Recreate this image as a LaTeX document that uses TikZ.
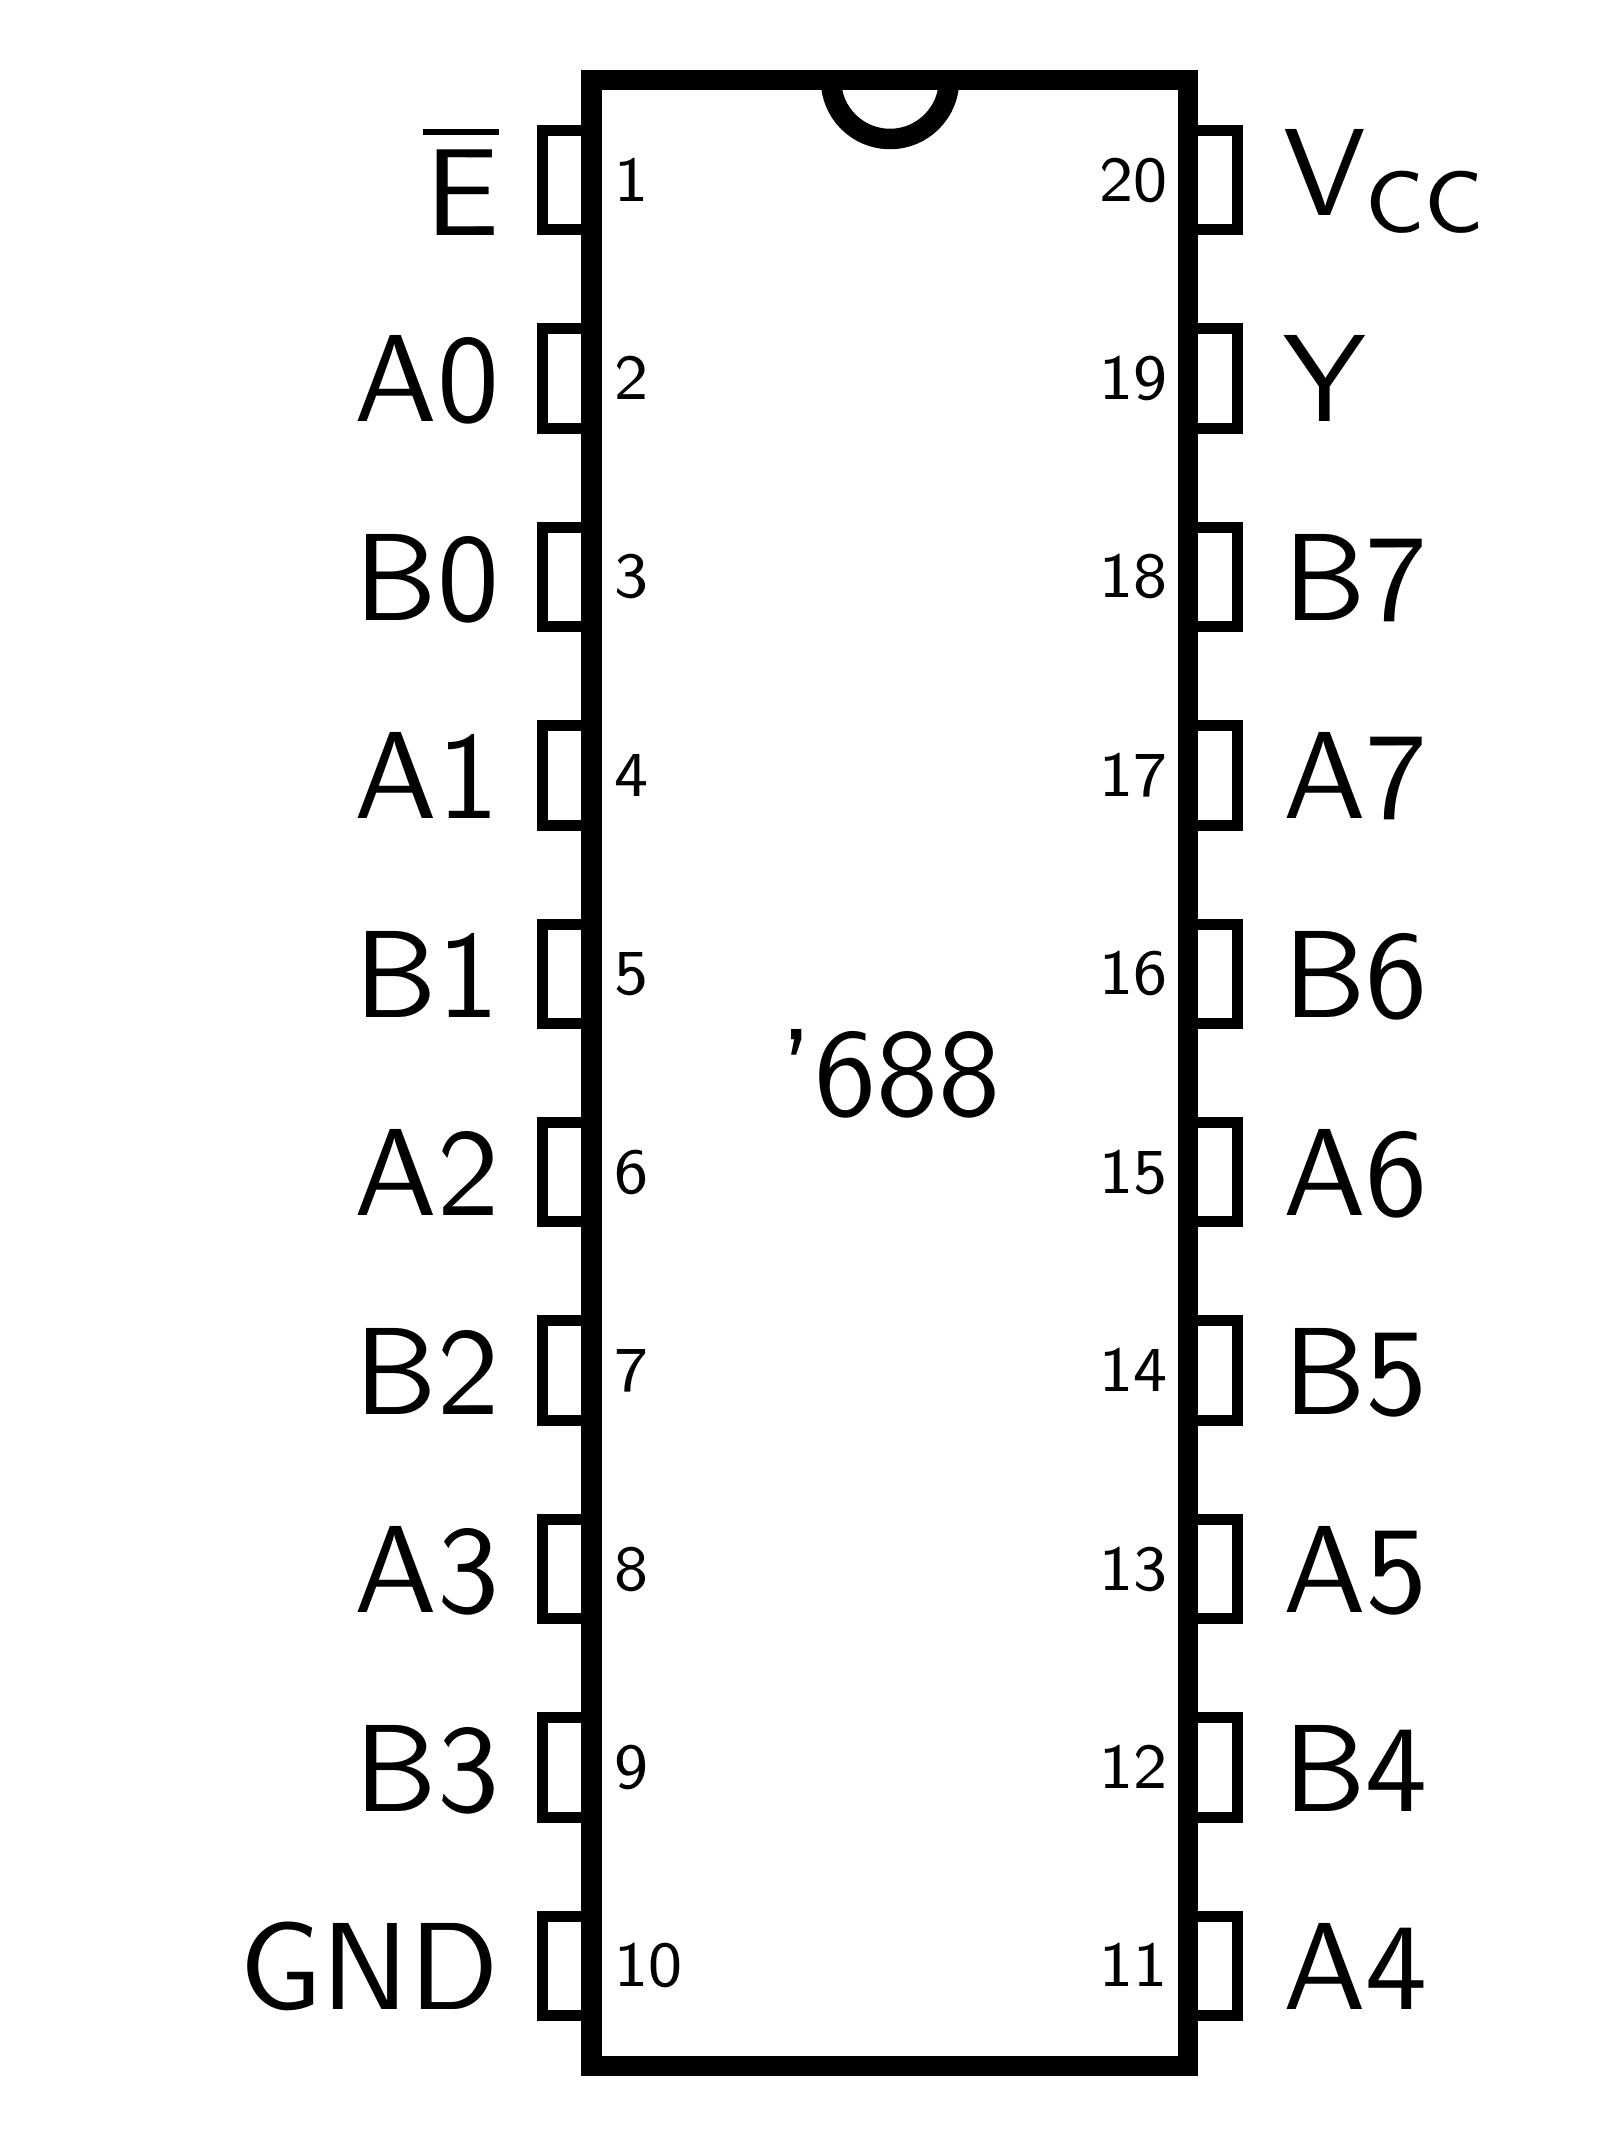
\documentclass[tikz,border=0pt]{standalone}
\usepackage{fontspec}
\newfontfamily\lmsten{lmsans10-regular.otf}
\newfontfamily\lmseight{lmsans8-regular.otf}
\newcommand{\bigtxt}{\fontsize{124}{124}\selectfont\lmsten}
\newcommand{\smalltxt}{\fontsize{64}{64}\selectfont\lmseight}
\tikzset{
  pinbox/.style={draw=black,line width=11pt,minimum width=48.5pt,minimum height=99.5pt,inner sep=0pt,outer sep=0pt},
  bodybox/.style={draw=black,line width=20.5pt,minimum width=596.5pt,minimum height=1986pt,inner sep=0pt,outer sep=0pt},
  leftlabel/.style={anchor=base east,inner sep=0pt,font=\bigtxt},
  rightlabel/.style={anchor=base west,inner sep=0pt,font=\bigtxt},
  numleft/.style={anchor=base west,inner sep=0pt,font=\smalltxt},
  numright/.style={anchor=base east,inner sep=0pt,font=\smalltxt},
  notchline/.style={draw=black,line width=20.5pt},
  barline/.style={draw=black,line width=6pt}
}
\begin{document}
\begin{tikzpicture}[x=1pt,y=-1pt]
\useasboundingbox (0,0) rectangle (1601,2146);
% pins and labels, left side
\foreach \n/\t in {1/{E},2/{A0},3/{B0},4/{A1},5/{B1},6/{A2},7/{B2},8/{A3},9/{B3},10/{GND}}{
  \pgfmathsetmacro{\yy}{180+198.44*(\n-1)}
  \node[pinbox] (pl\n) at (566.75,\yy) {};
  \node[numleft] (nl\n) at (614.5,\yy+21) {\n};
  \ifnum\n=1
    \node[leftlabel] (ll\n) at (499.5,236) {\t};
  \else
    \node[leftlabel] (ll\n) at (499.5,\yy+43.5) {\t};
  \fi
}
% pins and labels, right side
\foreach \r/\n/\t in {1/20/{V\raisebox{-17pt}{\fontsize{87}{87}\selectfont\lmseight CC}},2/19/{Y},3/18/{B7},4/17/{A7},5/16/{B6},6/15/{A6},7/14/{B5},8/13/{A5},9/12/{B4},10/11/{A4}}{
  \pgfmathsetmacro{\yy}{180+198.44*(\r-1)}
  \node[pinbox] (pr\n) at (1213,\yy) {};
  \node[numright] (nr\n) at (1168,\yy+21) {\n};
  \ifnum\r=1
    \node[rightlabel] (lr\n) at (1283,215) {\t};
  \else
    \node[rightlabel] (lr\n) at (1283,\yy+43.5) {\t};
  \fi
}
\draw[barline] (423,132) -- (499,132);
% body
\node[bodybox] (body) at (889.75,1073) {};
\draw[notchline] (831,80) arc[start angle=180,end angle=0,radius=59];
\node[anchor=base,inner sep=0pt,font=\bigtxt] (name) at (890,1115) {’688};
\end{tikzpicture}
\end{document}
